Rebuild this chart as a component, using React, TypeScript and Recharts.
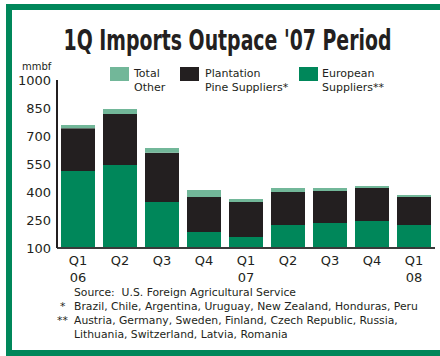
import { BarChart, Bar, XAxis, YAxis } from "recharts";

const quarters = ["Q1", "Q2", "Q3", "Q4", "Q1", "Q2", "Q3", "Q4", "Q1"];
const years = ["06", "", "", "", "07", "", "", "", "08"];
const european = [512, 545, 346, 186, 159, 223, 234, 245, 223];
const plantation = [229, 273, 264, 187, 187, 177, 171, 176, 150];
const totalOther = [18, 27, 26, 38, 16, 21, 16, 11, 11];
const yTicks = [100, 250, 400, 550, 700, 850, 1000];

const GREEN = "#00875a";
const BLACK = "#231f20";
const TEAL = "#72b799";
const FONT = "'DejaVu Sans', Verdana, sans-serif";

const chartData = quarters.map((q, i) => ({
  key: `${q}|${years[i]}|${i}`,
  european: european[i],
  plantation: plantation[i],
  other: totalOther[i],
}));

const QuarterTick = ({ x, y, payload }: any) => {
  const [q, yr] = String(payload.value).split("|");
  return (
    <g transform={`translate(${x},${y})`}>
      <text textAnchor="middle" y={15} fontSize={13} fill="#231f20" fontFamily={FONT}>
        {q}
      </text>
      {yr && (
        <text textAnchor="middle" y={32} fontSize={13} fill="#231f20" fontFamily={FONT}>
          {yr}
        </text>
      )}
    </g>
  );
};

const legendItems = [
  { color: TEAL, lines: ["Total", "Other"], left: 110, textLeft: 134 },
  { color: BLACK, lines: ["Plantation", "Pine Suppliers*"], left: 180, textLeft: 205 },
  { color: GREEN, lines: ["European", "Suppliers**"], left: 299, textLeft: 322 },
];

const noteStyle = {
  position: "absolute" as const,
  fontSize: 10.8,
  lineHeight: "14px",
  color: "#231f20",
  whiteSpace: "nowrap" as const,
};

export default function App() {
  return (
    <div
      style={{
        position: "absolute",
        left: 0,
        top: 0,
        width: 440,
        height: 356,
        background: "#fff",
        overflow: "hidden",
        fontFamily: FONT,
      }}
    >
      {/* frame */}
      <div style={{ position: "absolute", left: 6, top: 4, width: 440, height: 6, background: GREEN }} />
      <div style={{ position: "absolute", left: 6, top: 4, width: 6, height: 352, background: GREEN }} />
      <div style={{ position: "absolute", left: 6, top: 350, width: 440, height: 6, background: GREEN }} />

      <svg style={{ position: "absolute", left: 0, top: 12 }} width={440} height={50}>
        <g transform="translate(227.5,38) scale(1,1.33)">
          <text
            x={0}
            y={0}
            textAnchor="middle"
            fontFamily="'DejaVu Sans Condensed', 'DejaVu Sans', sans-serif"
            fontWeight="bold"
            fontSize={21}
            fill="#231f20"
          >
            1Q Imports Outpace '07 Period
          </text>
        </g>
      </svg>

      <div style={{ position: "absolute", left: 22, top: 61, fontSize: 10, color: "#231f20" }}>mmbf</div>

      {legendItems.map((item) => (
        <div key={item.left}>
          <div
            style={{
              position: "absolute",
              left: item.left,
              top: 67,
              width: 19,
              height: 14,
              background: item.color,
            }}
          />
          <div
            style={{
              position: "absolute",
              left: item.textLeft,
              top: 67,
              fontSize: 11,
              lineHeight: "14px",
              color: "#231f20",
              whiteSpace: "nowrap",
            }}
          >
            {item.lines[0]}
            <br />
            {item.lines[1]}
          </div>
        </div>
      ))}

      <div style={{ position: "absolute", left: 0, top: 0 }}>
        <BarChart
          width={440}
          height={356}
          data={chartData}
          margin={{ top: 80, right: 5, bottom: 78, left: 10 }}
          barSize={34}
        >
          <XAxis
            dataKey="key"
            height={30}
            tick={<QuarterTick />}
            tickLine={false}
            tickSize={0}
            axisLine={{ stroke: "#3a3a3a", strokeWidth: 2 }}
            interval={0}
          />
          <YAxis
            type="number"
            domain={[100, 1000]}
            ticks={yTicks}
            allowDataOverflow
            width={47}
            tickLine={false}
            tickSize={0}
            tickMargin={6}
            axisLine={{ stroke: "#231f20", strokeWidth: 2 }}
            tick={{ fill: "#231f20", fontSize: 13, fontFamily: FONT }}
          />
          <Bar dataKey="european" stackId="a" fill={GREEN} isAnimationActive={false} />
          <Bar dataKey="plantation" stackId="a" fill={BLACK} isAnimationActive={false} />
          <Bar dataKey="other" stackId="a" fill={TEAL} isAnimationActive={false} />
        </BarChart>
      </div>

      <div style={{ ...noteStyle, left: 74, top: 286 }}>
        Source:&nbsp; U.S. Foreign Agricultural Service
        <br />
        Brazil, Chile, Argentina, Uruguay, New Zealand, Honduras, Peru
        <br />
        Austria, Germany, Sweden, Finland, Czech Republic, Russia,
        <br />
        Lithuania, Switzerland, Latvia, Romania
      </div>
      <div style={{ ...noteStyle, left: 60, top: 300 }}>*</div>
      <div style={{ ...noteStyle, left: 57, top: 314 }}>**</div>
    </div>
  );
}
